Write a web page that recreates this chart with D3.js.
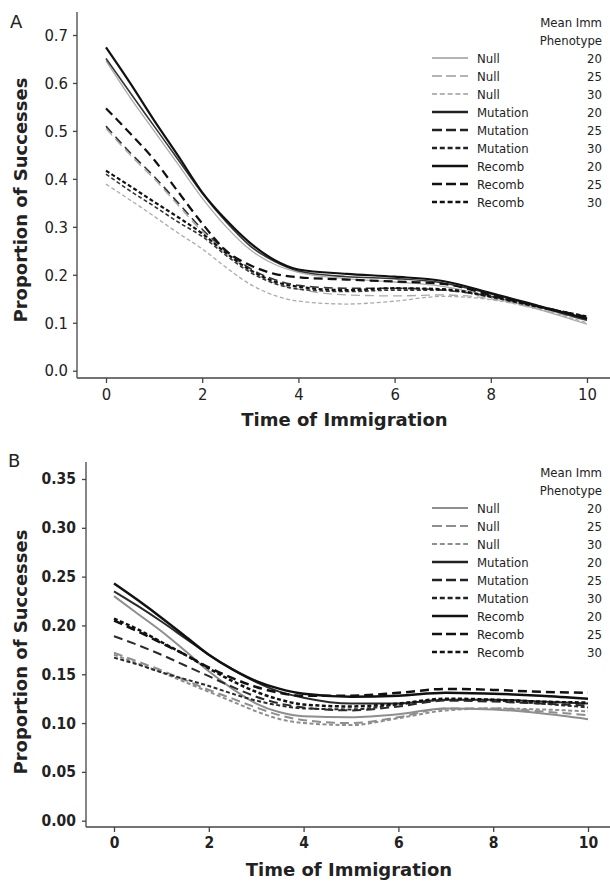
<!DOCTYPE html>
<html lang="en">
<head>
<meta charset="utf-8">
<title>Proportion of Successes</title>
<script src="https://cdn.jsdelivr.net/npm/d3@7"></script>
<style>
  body { margin: 0; background: #fff; }
  text { font-family: "DejaVu Sans Condensed", "DejaVu Sans", sans-serif; fill: #222; }
</style>
</head>
<body>
<script>
// time points of the smoothed curves
var timeSteps = [0, 0.5, 1, 1.5, 2, 2.5, 3, 3.5, 4, 5, 6, 7, 8, 9, 10];
var mechanisms = ["Null", "Null", "Null", "Mutation", "Mutation", "Mutation", "Recomb", "Recomb", "Recomb"];
var phenotypes = [20, 25, 30, 20, 25, 30, 20, 25, 30];
var xTicks = [0, 2, 4, 6, 8, 10];
var yTicksA = [0, 0.1, 0.2, 0.3, 0.4, 0.5, 0.6, 0.7];
var yTicksB = [0, 0.05, 0.1, 0.15, 0.2, 0.25, 0.3, 0.35];

// panel A
var aNull20 = [0.646, 0.57, 0.50, 0.43, 0.36, 0.30, 0.252, 0.222, 0.205, 0.192, 0.185, 0.176, 0.155, 0.128, 0.097];
var aNull25 = [0.505, 0.45, 0.40, 0.345, 0.29, 0.245, 0.208, 0.183, 0.170, 0.158, 0.156, 0.158, 0.150, 0.128, 0.105];
var aNull30 = [0.389, 0.356, 0.322, 0.287, 0.254, 0.215, 0.180, 0.157, 0.145, 0.139, 0.145, 0.155, 0.148, 0.128, 0.100];
var aMut20 = [0.651, 0.58, 0.51, 0.44, 0.37, 0.31, 0.26, 0.228, 0.208, 0.196, 0.192, 0.183, 0.160, 0.133, 0.105];
var aMut25 = [0.510, 0.455, 0.405, 0.35, 0.295, 0.25, 0.213, 0.19, 0.178, 0.172, 0.172, 0.168, 0.155, 0.133, 0.108];
var aMut30 = [0.410, 0.375, 0.343, 0.31, 0.28, 0.24, 0.205, 0.182, 0.170, 0.165, 0.168, 0.168, 0.153, 0.132, 0.110];
var aRec20 = [0.674, 0.60, 0.522, 0.448, 0.372, 0.314, 0.266, 0.231, 0.211, 0.202, 0.196, 0.187, 0.162, 0.135, 0.108];
var aRec25 = [0.547, 0.495, 0.44, 0.373, 0.307, 0.25, 0.22, 0.202, 0.195, 0.19, 0.186, 0.181, 0.158, 0.134, 0.112];
var aRec30 = [0.417, 0.385, 0.352, 0.32, 0.286, 0.245, 0.21, 0.186, 0.175, 0.168, 0.172, 0.170, 0.155, 0.133, 0.113];

// panel B
var bNull20 = [0.230, 0.212, 0.194, 0.174, 0.153, 0.135, 0.120, 0.111, 0.107, 0.106, 0.109, 0.115, 0.114, 0.110, 0.104];
var bNull25 = [0.172, 0.163, 0.154, 0.144, 0.134, 0.125, 0.116, 0.108, 0.103, 0.100, 0.106, 0.115, 0.115, 0.112, 0.108];
var bNull30 = [0.170, 0.161, 0.152, 0.142, 0.132, 0.122, 0.112, 0.104, 0.100, 0.098, 0.105, 0.113, 0.115, 0.114, 0.112];
var bMut20 = [0.235, 0.220, 0.204, 0.187, 0.170, 0.155, 0.142, 0.132, 0.126, 0.120, 0.120, 0.124, 0.124, 0.122, 0.120];
var bMut25 = [0.189, 0.180, 0.170, 0.159, 0.148, 0.137, 0.127, 0.120, 0.116, 0.113, 0.117, 0.123, 0.122, 0.120, 0.118];
var bMut30 = [0.167, 0.160, 0.152, 0.145, 0.138, 0.130, 0.123, 0.118, 0.115, 0.114, 0.119, 0.124, 0.123, 0.120, 0.116];
var bRec20 = [0.243, 0.226, 0.208, 0.189, 0.170, 0.155, 0.143, 0.135, 0.130, 0.127, 0.128, 0.131, 0.130, 0.128, 0.125];
var bRec25 = [0.205, 0.194, 0.182, 0.170, 0.157, 0.146, 0.137, 0.131, 0.128, 0.128, 0.131, 0.135, 0.134, 0.132, 0.131];
var bRec30 = [0.207, 0.196, 0.183, 0.170, 0.156, 0.143, 0.132, 0.124, 0.119, 0.117, 0.120, 0.125, 0.124, 0.122, 0.121];

var valuesA = [aNull20, aNull25, aNull30, aMut20, aMut25, aMut30, aRec20, aRec25, aRec30];
var valuesB = [bNull20, bNull25, bNull30, bMut20, bMut25, bMut30, bRec20, bRec25, bRec30];

var w = 610, h = 883;

var dashFor = {20: null, 25: "9,5", 30: "4,2.5"};
var legendDash = {20: null, 25: "10,4", 30: "5,2.8"};

var svg = d3.select("body").append("svg")
    .attr("width", w)
    .attr("height", h);

svg.append("rect").attr("width", w).attr("height", h).attr("fill", "#fff");

var panels = [
    {
        name: "A", values: valuesA, yTicks: yTicksA, fmt: d3.format(".1f"),
        xRange: [106, 587], yMax: 0.7, yRange: [370.7, 35],
        axisLeft: 77, axisBottom: 378, axisTop: 12,
        labelY: 28, labelX: 10, legendTop: 22, tickBold: false, tickSize: 16.5, yPad: 5,
        titleY: 426, yTitleC: 200,
        color: {Null: "#ababab", Mutation: "#363636", Recomb: "#111"},
        width: {Null: 1.3, Mutation: 1.6, Recomb: 2.2},
        legColor: {Null: "#b4b4b4", Mutation: "#222", Recomb: "#111"}
    },
    {
        name: "B", values: valuesB, yTicks: yTicksB, fmt: d3.format(".2f"),
        xRange: [114, 588], yMax: 0.35, yRange: [820.7, 479],
        axisLeft: 86, axisBottom: 827, axisTop: 462,
        labelY: 467, labelX: 8, legendTop: 472, tickBold: true, tickSize: 15.5, yPad: 6,
        titleY: 876, yTitleC: 652,
        color: {Null: "#8e8e8e", Mutation: "#2a2a2a", Recomb: "#111"},
        width: {Null: 2, Mutation: 2, Recomb: 2.5},
        legColor: {Null: "#8e8e8e", Mutation: "#222", Recomb: "#111"}
    }
];

panels.forEach(function(p) {
    var g = svg.append("g");

    var x = d3.scaleLinear().domain([0, 10]).range(p.xRange);
    var y = d3.scaleLinear().domain([0, p.yMax]).range(p.yRange);

    // axis lines
    g.append("line")
        .attr("x1", p.axisLeft).attr("x2", p.axisLeft)
        .attr("y1", p.axisTop).attr("y2", p.axisBottom)
        .attr("stroke", "#444").attr("stroke-width", 1.3);
    g.append("line")
        .attr("x1", p.axisLeft).attr("x2", w)
        .attr("y1", p.axisBottom).attr("y2", p.axisBottom)
        .attr("stroke", "#444").attr("stroke-width", 1.3);

    var yAxis = g.append("g")
        .attr("transform", "translate(" + p.axisLeft + ",0)")
        .call(d3.axisLeft(y).tickValues(p.yTicks).tickFormat(p.fmt).tickSize(4).tickPadding(p.yPad));
    var xAxis = g.append("g")
        .attr("transform", "translate(0," + p.axisBottom + ")")
        .call(d3.axisBottom(x).tickValues(xTicks).tickSize(5).tickPadding(5));

    [yAxis, xAxis].forEach(function(ax) {
        ax.select(".domain").remove();
        ax.selectAll(".tick line").attr("stroke", "#444").attr("stroke-width", 1.3);
        ax.selectAll(".tick text")
            .attr("fill", "#222")
            .style("font-family", '"DejaVu Sans Condensed", "DejaVu Sans", sans-serif')
            .style("font-size", p.tickSize + "px")
            .style("font-weight", p.tickBold ? "bold" : "normal");
    });

    // panel letter
    g.append("text")
        .attr("x", p.labelX).attr("y", p.labelY)
        .style("font-family", '"DejaVu Sans", sans-serif')
        .style("font-size", "18px")
        .text(p.name);

    // axis titles
    g.append("text")
        .attr("x", (p.xRange[0] + p.xRange[1]) / 2 - 2)
        .attr("y", p.titleY)
        .attr("text-anchor", "middle")
        .style("font-family", '"DejaVu Sans", sans-serif')
        .style("font-weight", "bold")
        .style("font-size", "18px")
        .text("Time of Immigration");
    g.append("text")
        .attr("transform", "translate(27," + p.yTitleC + ") rotate(-90)")
        .attr("text-anchor", "middle")
        .style("font-family", '"DejaVu Sans", sans-serif')
        .style("font-weight", "bold")
        .style("font-size", "18px")
        .text("Proportion of Successes");

    // curves
    var line = d3.line()
        .x(function(d) { return x(d[0]); })
        .y(function(d) { return y(d[1]); })
        .curve(d3.curveMonotoneX);

    var series = p.values.map(function(vals, i) {
        return {
            mech: mechanisms[i],
            pheno: phenotypes[i],
            points: timeSteps.map(function(t, j) { return [t, vals[j]]; })
        };
    });

    // draw null first so darker lines sit on top
    g.selectAll("path.curve")
        .data(series)
        .enter()
        .append("path")
        .attr("class", "curve")
        .attr("d", function(d) { return line(d.points); })
        .attr("fill", "none")
        .attr("stroke", function(d) { return p.color[d.mech]; })
        .attr("stroke-width", function(d) { return p.width[d.mech]; })
        .attr("stroke-dasharray", function(d) { return dashFor[d.pheno]; });

    // legend
    var lg = g.append("g");
    lg.append("text")
        .attr("x", 602).attr("y", p.legendTop).attr("dy", "0.36em")
        .attr("text-anchor", "end")
        .style("font-size", "13px")
        .text("Mean Imm");
    lg.append("text")
        .attr("x", 602).attr("y", p.legendTop + 18.5).attr("dy", "0.36em")
        .attr("text-anchor", "end")
        .style("font-size", "13px")
        .text("Phenotype");

    var rows = lg.selectAll("g.row")
        .data(series)
        .enter()
        .append("g")
        .attr("class", "row")
        .attr("transform", function(d, i) { return "translate(0," + (p.legendTop + 36 + i * 18) + ")"; });

    rows.append("line")
        .attr("x1", 432).attr("x2", 468)
        .attr("stroke", function(d) { return p.legColor[d.mech]; })
        .attr("stroke-width", function(d) { return d.mech == "Null" ? 1.8 : 2.6; })
        .attr("stroke-dasharray", function(d) { return legendDash[d.pheno]; });
    rows.append("text")
        .attr("x", 477).attr("dy", "0.36em")
        .style("font-size", "13px")
        .text(function(d) { return d.mech; });
    rows.append("text")
        .attr("x", 602).attr("dy", "0.36em")
        .attr("text-anchor", "end")
        .style("font-size", "13px")
        .text(function(d) { return d.pheno; });
});
</script>
</body>
</html>
